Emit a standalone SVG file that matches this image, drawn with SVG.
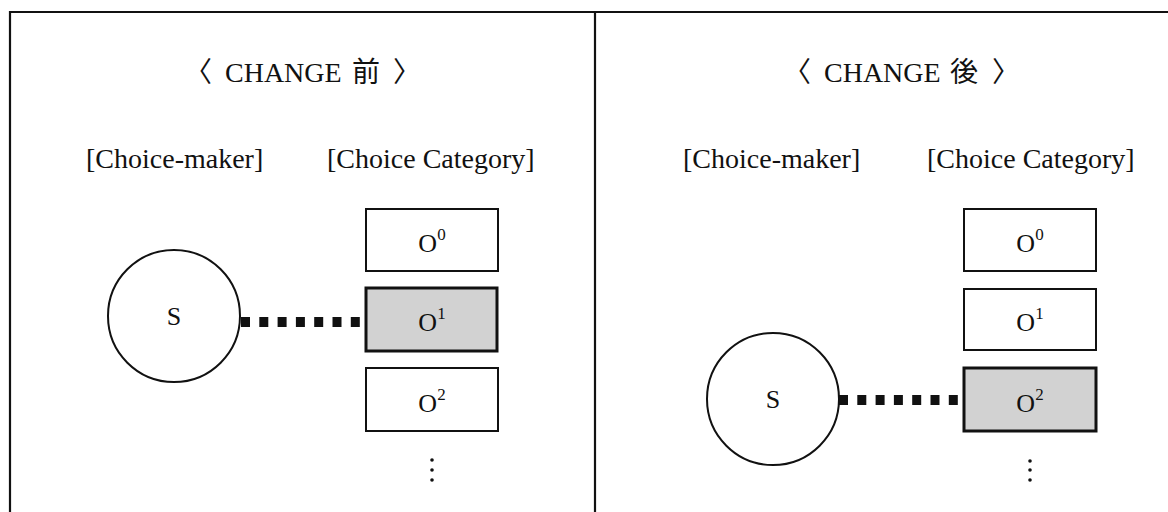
<svg xmlns="http://www.w3.org/2000/svg" width="1168" height="512" viewBox="0 0 1168 512">
<style>
  .frame{stroke:#111;stroke-width:2.2;fill:none}
  .t{font-family:"Liberation Serif","Noto Sans CJK JP",serif;fill:#111}
  .title{font-size:28px}
  .lab{font-size:28px}
  .o{font-size:26px;text-anchor:middle}
  .sup{font-size:17px}
  .box{fill:#fff;stroke:#111;stroke-width:2}
  .sel{fill:#d2d2d2;stroke:#111;stroke-width:3}
  .circ{fill:#fff;stroke:#111;stroke-width:2}
  .conn{stroke:#111;stroke-width:10;stroke-dasharray:9 9.3;fill:none}
  .dot{fill:#111}
</style>
<rect width="1168" height="512" fill="#fff"/>
<g id="frame">
  <line class="frame" x1="10" y1="12" x2="1168" y2="12"/>
  <line class="frame" x1="10" y1="11" x2="10" y2="512"/>
  <line class="frame" x1="595" y1="12" x2="595" y2="512"/>
</g>
<g id="left-panel">
  <text class="t title" y="82"><tspan x="184">〈</tspan><tspan x="225">CHANGE</tspan><tspan x="352">前</tspan><tspan x="393">〉</tspan></text>
  <text class="t lab" x="86" y="168">[Choice-maker]</text>
  <text class="t lab" x="327" y="168">[Choice Category]</text>
</g>
<g id="right-panel">
  <text class="t title" y="82"><tspan x="783">〈</tspan><tspan x="824">CHANGE</tspan><tspan x="950">後</tspan><tspan x="992">〉</tspan></text>
  <text class="t lab" x="683" y="168">[Choice-maker]</text>
  <text class="t lab" x="927" y="168">[Choice Category]</text>
</g>
<g id="connectors">
  <line class="conn" x1="241" y1="322" x2="360" y2="322"/>
  <line class="conn" x1="839" y1="400" x2="958" y2="400"/>
</g>
<g id="left-S">
  <circle class="circ" cx="174" cy="316" r="66"/>
  <text class="t o" x="174" y="325">S</text>
</g>
<g id="left-O0">
  <rect class="box" x="366" y="209" width="132" height="62"/>
  <text class="t o" x="432" y="252">O<tspan class="sup" dy="-12">0</tspan></text>
</g>
<g id="left-O1">
  <rect class="sel" x="366" y="288" width="131" height="63"/>
  <text class="t o" x="432" y="331">O<tspan class="sup" dy="-12">1</tspan></text>
</g>
<g id="left-O2">
  <rect class="box" x="366" y="368" width="132" height="63"/>
  <text class="t o" x="432" y="412">O<tspan class="sup" dy="-12">2</tspan></text>
</g>
<g id="left-more">
  <circle class="dot" cx="432" cy="460" r="1.8"/>
  <circle class="dot" cx="432" cy="470" r="1.8"/>
  <circle class="dot" cx="432" cy="480" r="1.8"/>
</g>
<g id="right-S">
  <circle class="circ" cx="773" cy="399" r="66"/>
  <text class="t o" x="773" y="408">S</text>
</g>
<g id="right-O0">
  <rect class="box" x="964" y="209" width="132" height="62"/>
  <text class="t o" x="1030" y="252">O<tspan class="sup" dy="-12">0</tspan></text>
</g>
<g id="right-O1">
  <rect class="box" x="964" y="289" width="132" height="61"/>
  <text class="t o" x="1030" y="331">O<tspan class="sup" dy="-12">1</tspan></text>
</g>
<g id="right-O2">
  <rect class="sel" x="964" y="368" width="132" height="63"/>
  <text class="t o" x="1030" y="412">O<tspan class="sup" dy="-12">2</tspan></text>
</g>
<g id="right-more">
  <circle class="dot" cx="1030" cy="461" r="1.8"/>
  <circle class="dot" cx="1030" cy="470" r="1.8"/>
  <circle class="dot" cx="1030" cy="480" r="1.8"/>
</g>
</svg>
